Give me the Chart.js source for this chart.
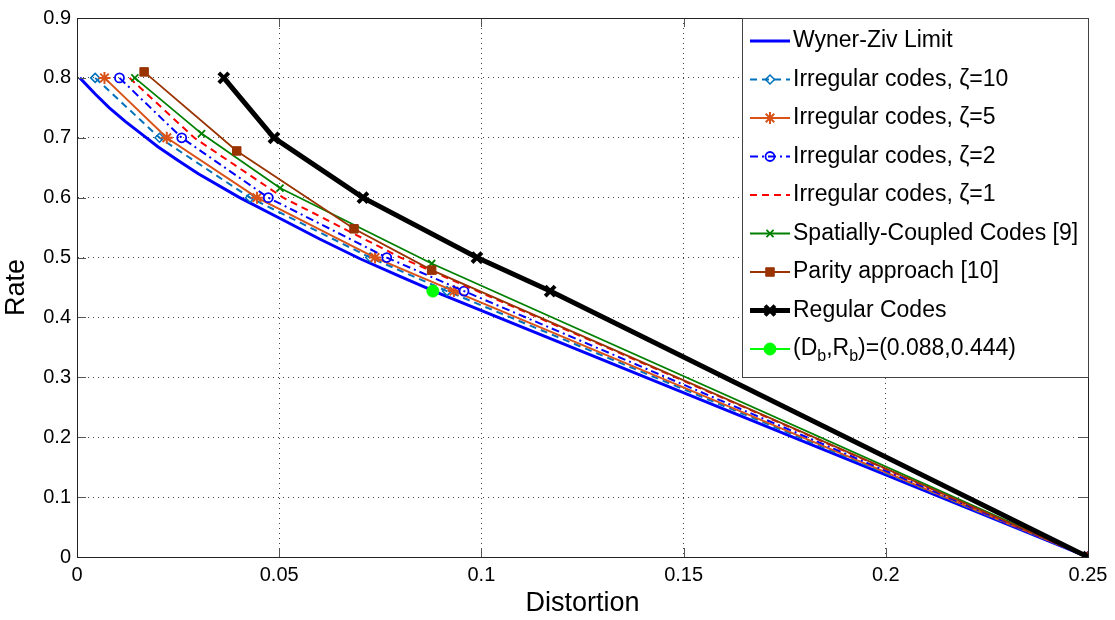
<!DOCTYPE html>
<html>
<head>
<meta charset="utf-8">
<script src="https://cdn.jsdelivr.net/npm/chart.js@4.4.1/dist/chart.umd.min.js"></script>
<style>
  html, body { margin: 0; background: #fff; }
  #wrap { width: 1115px; height: 620px; }
</style>
</head>
<body>
<div id="wrap"><canvas id="c" width="1115" height="620"></canvas></div>
<script>
// values (distortion D, rate R)
const xTicks = [0, 0.05, 0.1, 0.15, 0.2, 0.25];
const yTicks = [0, 0.1, 0.2, 0.3, 0.4, 0.5, 0.6, 0.7, 0.8, 0.9];

const wzD = [0.0007, 0.0045, 0.008, 0.012, 0.016, 0.02, 0.025, 0.03, 0.04, 0.05, 0.06, 0.07, 0.08, 0.09, 0.25];
const wzR = [0.800, 0.773, 0.750, 0.727, 0.706, 0.685, 0.662, 0.640, 0.601, 0.566, 0.531, 0.498, 0.468, 0.439, 0];

const irrR = [0.8, 0.7, 0.6, 0.5, 0.444, 0];
const z10D = [0.0045, 0.0204, 0.0428, 0.0725, 0.0915, 0.25];
const z5D  = [0.0068, 0.0222, 0.0445, 0.0737, 0.0932, 0.25];
const z2D  = [0.0105, 0.0259, 0.0473, 0.0766, 0.0957, 0.25];
const z1D  = [0.0130, 0.0290, 0.0510, 0.0800, 0.0990, 0.25];

const scD = [0.0143, 0.0308, 0.0502, 0.0877, 0.25];
const scR = [0.8, 0.707, 0.616, 0.49, 0];

const parD = [0.0166, 0.0395, 0.0685, 0.0877, 0.25];
const parR = [0.81, 0.678, 0.548, 0.479, 0];

const regD = [0.0363, 0.0487, 0.0707, 0.0989, 0.117, 0.25];
const regR = [0.8, 0.7, 0.6, 0.5, 0.444, 0];

const bD = [0.088];
const bR = [0.444];

const FONT = '"Liberation Sans", Arial, sans-serif';

function pts(xs, ys) {
  return xs.map((x, i) => ({ x: x, y: ys[i] }));
}

// one entry per curve, in legend order
const series = [
  { label: 'Wyner-Ziv Limit', d: wzD, r: wzR, color: '#0000ff', width: 3, dash: [], marker: false },
  { label: 'Irregular codes, ζ=10', d: z10D, r: irrR, color: '#0072bd', width: 2, dash: [7, 5],
    marker: { style: 'rectRot', radius: 4.5, bw: 1.5, fill: 'rgba(0,0,0,0)' } },
  { label: 'Irregular codes, ζ=5', d: z5D, r: irrR, color: '#d95319', width: 2, dash: [],
    marker: { style: 'star', radius: 6, bw: 2, fill: 'rgba(0,0,0,0)' } },
  { label: 'Irregular codes, ζ=2', d: z2D, r: irrR, color: '#0000ff', width: 2, dash: [8, 4, 2, 4],
    marker: { style: 'circle', radius: 4.5, bw: 1.8, fill: 'rgba(0,0,0,0)' } },
  { label: 'Irregular codes, ζ=1', d: z1D, r: irrR, color: '#ff0000', width: 2, dash: [7, 5], marker: false },
  { label: 'Spatially-Coupled Codes [9]', d: scD, r: scR, color: '#008000', width: 1.8, dash: [],
    marker: { style: 'crossRot', radius: 5, bw: 1.8, fill: 'rgba(0,0,0,0)' } },
  { label: 'Parity approach [10]', d: parD, r: parR, color: '#993300', width: 1.8, dash: [],
    marker: { style: 'rect', radius: 6, bw: 1, fill: '#993300' } },
  { label: 'Regular Codes', d: regD, r: regR, color: '#000000', width: 5, dash: [],
    marker: { style: 'crossRot', radius: 7, bw: 4, fill: '#000000' } },
  { label: '(Db,Rb)=(0.088,0.444)', d: bD, r: bR, color: '#00ff00', width: 2, dash: [],
    marker: { style: 'circle', radius: 6, bw: 1, fill: '#00ff00' } }
];

const datasets = series.map((s, i) => ({
  label: s.label,
  data: pts(s.d, s.r),
  showLine: true,
  borderColor: s.color,
  borderWidth: s.width,
  borderDash: s.dash,
  tension: 0,
  pointStyle: s.marker ? s.marker.style : 'circle',
  pointRadius: s.marker ? s.marker.radius : 0,
  pointHoverRadius: s.marker ? s.marker.radius : 0,
  pointBorderWidth: s.marker ? s.marker.bw : 0,
  pointBorderColor: s.color,
  pointBackgroundColor: s.marker ? s.marker.fill : s.color,
  order: series.length - i
}));

// MATLAB style box with inward tick marks
const boxPlugin = {
  id: 'box',
  afterDatasetsDraw(chart) {
    const { ctx, chartArea: a, scales } = chart;
    ctx.save();
    ctx.strokeStyle = '#555';
    ctx.lineWidth = 1;
    ctx.beginPath();
    xTicks.forEach(v => {
      const x = Math.round(scales.x.getPixelForValue(v)) + 0.5;
      ctx.moveTo(x, a.bottom); ctx.lineTo(x, a.bottom - 9);
      ctx.moveTo(x, a.top); ctx.lineTo(x, a.top + 9);
    });
    yTicks.forEach(v => {
      const y = Math.round(scales.y.getPixelForValue(v)) + 0.5;
      ctx.moveTo(a.left, y); ctx.lineTo(a.left + 9, y);
      ctx.moveTo(a.right, y); ctx.lineTo(a.right - 9, y);
    });
    ctx.stroke();
    ctx.strokeStyle = '#222';
    ctx.strokeRect(Math.round(a.left) + 0.5, Math.round(a.top) + 0.5,
      Math.round(a.right - a.left), Math.round(a.bottom - a.top));
    ctx.restore();
  }
};

// legend box drawn inside the plot, top right
const legendPlugin = {
  id: 'insideLegend',
  afterDraw(chart) {
    const { ctx } = chart;
    const left = 742, top = 18, right = 1088, bottom = 377;
    const rowH = 38.5, y0 = 41;
    ctx.save();
    ctx.fillStyle = '#fff';
    ctx.fillRect(left, top, right - left, bottom - top);
    ctx.strokeStyle = '#444';
    ctx.lineWidth = 1;
    ctx.strokeRect(left + 0.5, top + 0.5, right - left, bottom - top);

    series.forEach((s, i) => {
      const y = y0 + i * rowH;
      ctx.strokeStyle = s.color;
      ctx.lineWidth = s.width;
      ctx.setLineDash(s.dash);
      ctx.beginPath();
      ctx.moveTo(750, y);
      ctx.lineTo(790, y);
      ctx.stroke();
      ctx.setLineDash([]);
      if (s.marker && Chart.helpers && Chart.helpers.drawPoint) {
        ctx.strokeStyle = s.color;
        ctx.fillStyle = s.marker.fill;
        ctx.lineWidth = s.marker.bw;
        Chart.helpers.drawPoint(ctx, {
          pointStyle: s.marker.style, radius: s.marker.radius,
          rotation: 0, borderWidth: s.marker.bw
        }, 770, y);
      }
      ctx.fillStyle = '#000';
      ctx.font = '23px ' + FONT;
      ctx.textBaseline = 'middle';
      ctx.textAlign = 'left';
      if (i === series.length - 1) {
        let x = 793;
        const parts = [['(D', 0], ['b', 1], [',R', 0], ['b', 1], [')=(0.088,0.444)', 0]];
        parts.forEach(([t, sub]) => {
          ctx.font = (sub ? '16px ' : '23px ') + FONT;
          ctx.fillText(t, x, y + (sub ? 8 : 0));
          x += ctx.measureText(t).width;
        });
      } else {
        ctx.fillText(s.label, 793, y);
      }
    });
    ctx.restore();
  }
};

const tickFmt = v => {
  const r = Math.round(v * 100) / 100;
  return String(r);
};

new Chart(document.getElementById('c'), {
  type: 'scatter',
  data: { datasets: datasets },
  options: {
    responsive: false,
    animation: false,
    events: [],
    layout: { padding: { top: 17, right: 27, left: 0, bottom: 0 } },
    plugins: { legend: { display: false }, tooltip: { enabled: false } },
    scales: {
      x: {
        type: 'linear',
        min: 0, max: 0.25,
        afterBuildTicks: scale => { scale.ticks = xTicks.map(v => ({ value: v })); },
        afterFit: scale => { scale.height = 63; },
        ticks: {
          color: '#000', padding: 6, maxRotation: 0,
          font: { family: FONT, size: 20 },
          callback: v => tickFmt(v)
        },
        grid: { color: '#444', lineWidth: 1, drawTicks: false },
        border: { display: true, color: '#222', dash: [1, 4] },
        title: {
          display: true, text: 'Distortion', color: '#000',
          font: { family: FONT, size: 27 }, padding: { top: 0, bottom: 0 }
        }
      },
      y: {
        type: 'linear',
        min: 0, max: 0.9,
        afterBuildTicks: scale => { scale.ticks = yTicks.map(v => ({ value: v })); },
        afterFit: scale => { scale.width = 77; },
        ticks: {
          color: '#000', padding: 6,
          font: { family: FONT, size: 20 },
          callback: v => tickFmt(v)
        },
        grid: { color: '#444', lineWidth: 1, drawTicks: false },
        border: { display: true, color: '#222', dash: [1, 4] },
        title: {
          display: true, text: 'Rate', color: '#000',
          font: { family: FONT, size: 27 }, padding: { top: 0, bottom: 0 }
        }
      }
    }
  },
  plugins: [boxPlugin, legendPlugin]
});
</script>
</body>
</html>
